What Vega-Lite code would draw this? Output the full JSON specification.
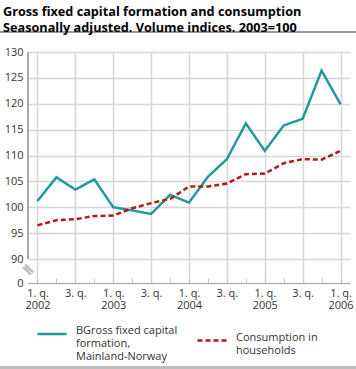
{
 "$schema": "https://vega.github.io/schema/vega-lite/v6.json",
 "width": 322, "height": 231,
 "autosize": {"type": "none"},
 "padding": {"left": 28, "top": 52, "right": 6, "bottom": 86},
 "background": "white",
 "title": {"text": ["Gross fixed capital formation and consumption", "Seasonally adjusted. Volume indices. 2003=100"], "anchor": "start", "frame": "group", "dx": -25, "offset": -3, "font": "Open Sans", "fontSize": 12.7, "fontWeight": "bold", "color": "#000", "lineHeight": 16},
 "config": {"font": "Open Sans", "view": {"stroke": null}},
 "data": {"values": [
  {"q": 0, "s": "gfcf", "v": 101.2}, {"q": 1, "s": "gfcf", "v": 105.8}, {"q": 2, "s": "gfcf", "v": 103.4}, {"q": 3, "s": "gfcf", "v": 105.4},
  {"q": 4, "s": "gfcf", "v": 100.0}, {"q": 5, "s": "gfcf", "v": 99.4}, {"q": 6, "s": "gfcf", "v": 98.7}, {"q": 7, "s": "gfcf", "v": 102.4},
  {"q": 8, "s": "gfcf", "v": 100.9}, {"q": 9, "s": "gfcf", "v": 105.9}, {"q": 10, "s": "gfcf", "v": 109.3}, {"q": 11, "s": "gfcf", "v": 116.2},
  {"q": 12, "s": "gfcf", "v": 110.9}, {"q": 13, "s": "gfcf", "v": 115.8}, {"q": 14, "s": "gfcf", "v": 117.1}, {"q": 15, "s": "gfcf", "v": 126.4},
  {"q": 16, "s": "gfcf", "v": 119.9},
  {"q": 0, "s": "cons", "v": 96.5}, {"q": 1, "s": "cons", "v": 97.5}, {"q": 2, "s": "cons", "v": 97.7}, {"q": 3, "s": "cons", "v": 98.3},
  {"q": 4, "s": "cons", "v": 98.4}, {"q": 5, "s": "cons", "v": 99.8}, {"q": 6, "s": "cons", "v": 100.8}, {"q": 7, "s": "cons", "v": 101.6},
  {"q": 8, "s": "cons", "v": 104.0}, {"q": 9, "s": "cons", "v": 104.0}, {"q": 10, "s": "cons", "v": 104.6}, {"q": 11, "s": "cons", "v": 106.4},
  {"q": 12, "s": "cons", "v": 106.5}, {"q": 13, "s": "cons", "v": 108.5}, {"q": 14, "s": "cons", "v": 109.3}, {"q": 15, "s": "cons", "v": 109.2},
  {"q": 16, "s": "cons", "v": 110.9}
 ]},
 "layer": [
  {"mark": {"type": "line", "strokeWidth": 2.5, "clip": false},
   "encoding": {
    "x": {"field": "q", "type": "quantitative",
          "scale": {"domain": [-0.5, 16.5], "nice": false, "zero": false},
          "axis": {"title": null, "values": [0,1,2,3,4,5,6,7,8,9,10,11,12,13,14,15,16], "tickCount": 40,
                   "labelExpr": "datum.value % 4 == 0 ? ['1. q.', '' + (2002 + datum.value / 4)] : (datum.value % 4 == 2 ? '3. q.' : '')",
                   "labelFont": "Open Sans", "labelFontSize": 11, "labelColor": "#333", "labelBaseline": "top", "labelLineHeight": 12.5,
                   "labelPadding": 9, "labelFlush": false, "labelOverlap": false,
                   "grid": true, "gridColor": "#d6d6d6", "gridWidth": 1.5,
                   "gridOpacity": {"condition": {"test": "datum.value % 2 == 1", "value": 0}, "value": 1},
                   "domainColor": "#a8a8a8", "domainWidth": 1.2,
                   "ticks": true, "tickSize": -5, "tickColor": "#c8c8c8", "tickWidth": 1}},
    "y": {"field": "v", "type": "quantitative",
          "scale": {"domain": [0, 90, 130], "range": [231, 207, 0], "nice": false, "zero": false},
          "axis": {"title": null, "values": [0, 90, 95, 100, 105, 110, 115, 120, 125, 130], "tickCount": 40,
                   "labelFont": "Open Sans", "labelFontSize": 11, "labelColor": "#333", "labelPadding": 5, "labelOverlap": false,
                   "grid": true, "gridColor": "#d6d6d6", "gridWidth": 1.5, "domain": false, "ticks": false}},
    "color": {"field": "s", "type": "nominal",
              "scale": {"domain": ["gfcf", "cons"], "range": ["#1f9b98", "#b2191b"]},
              "legend": {"title": null, "orient": "none", "legendX": 8, "legendY": 266, "direction": "horizontal", "columns": 2,
                         "symbolType": "stroke", "symbolSize": 841, "symbolStrokeWidth": 2.5, "labelFont": "Open Sans", "labelFontSize": 11,
                         "labelColor": "#333", "labelOffset": 8, "labelBaseline": "alphabetic", "labelLineHeight": 14.5, "columnPadding": 14,
                         "labelExpr": "datum.value == 'gfcf' ? ['BGross fixed capital', 'formation,', 'Mainland-Norway'] : ['Consumption in', 'households']"}},
    "strokeDash": {"field": "s", "type": "nominal",
              "scale": {"domain": ["gfcf", "cons"], "range": [[1, 0], [5, 3]]},
              "legend": {"title": null, "orient": "none", "legendX": 8, "legendY": 266, "direction": "horizontal", "columns": 2,
                         "symbolType": "stroke", "symbolSize": 841, "symbolStrokeWidth": 2.5, "labelFont": "Open Sans", "labelFontSize": 11,
                         "labelColor": "#333", "labelOffset": 8, "labelBaseline": "alphabetic", "labelLineHeight": 14.5, "columnPadding": 14,
                         "labelExpr": "datum.value == 'gfcf' ? ['BGross fixed capital', 'formation,', 'Mainland-Norway'] : ['Consumption in', 'households']"}}
   }},
  {"mark": {"type": "rule", "color": "#a8a8a8", "strokeWidth": 1.2, "clip": false},
   "encoding": {"x": {"datum": -0.5}, "y": {"datum": 90}, "y2": {"datum": 130}}},
  {"mark": {"type": "text", "text": "=", "angle": 45, "fontSize": 16, "color": "#c0c0c0", "font": "DejaVu Sans", "clip": false},
   "encoding": {"x": {"datum": -0.5}, "y": {"datum": 50}}},
  {"mark": {"type": "rule", "color": "#999999", "strokeWidth": 1, "clip": false},
   "encoding": {"x": {"datum": -2}, "x2": {"datum": 16.9}, "y": {"datum": 133.9}}},
  {"mark": {"type": "rule", "color": "#bdbdbd", "strokeWidth": 2.5, "clip": false},
   "encoding": {"x": {"datum": -2}, "x2": {"datum": 16.9}, "y": {"datum": -318}}}
 ]
}
